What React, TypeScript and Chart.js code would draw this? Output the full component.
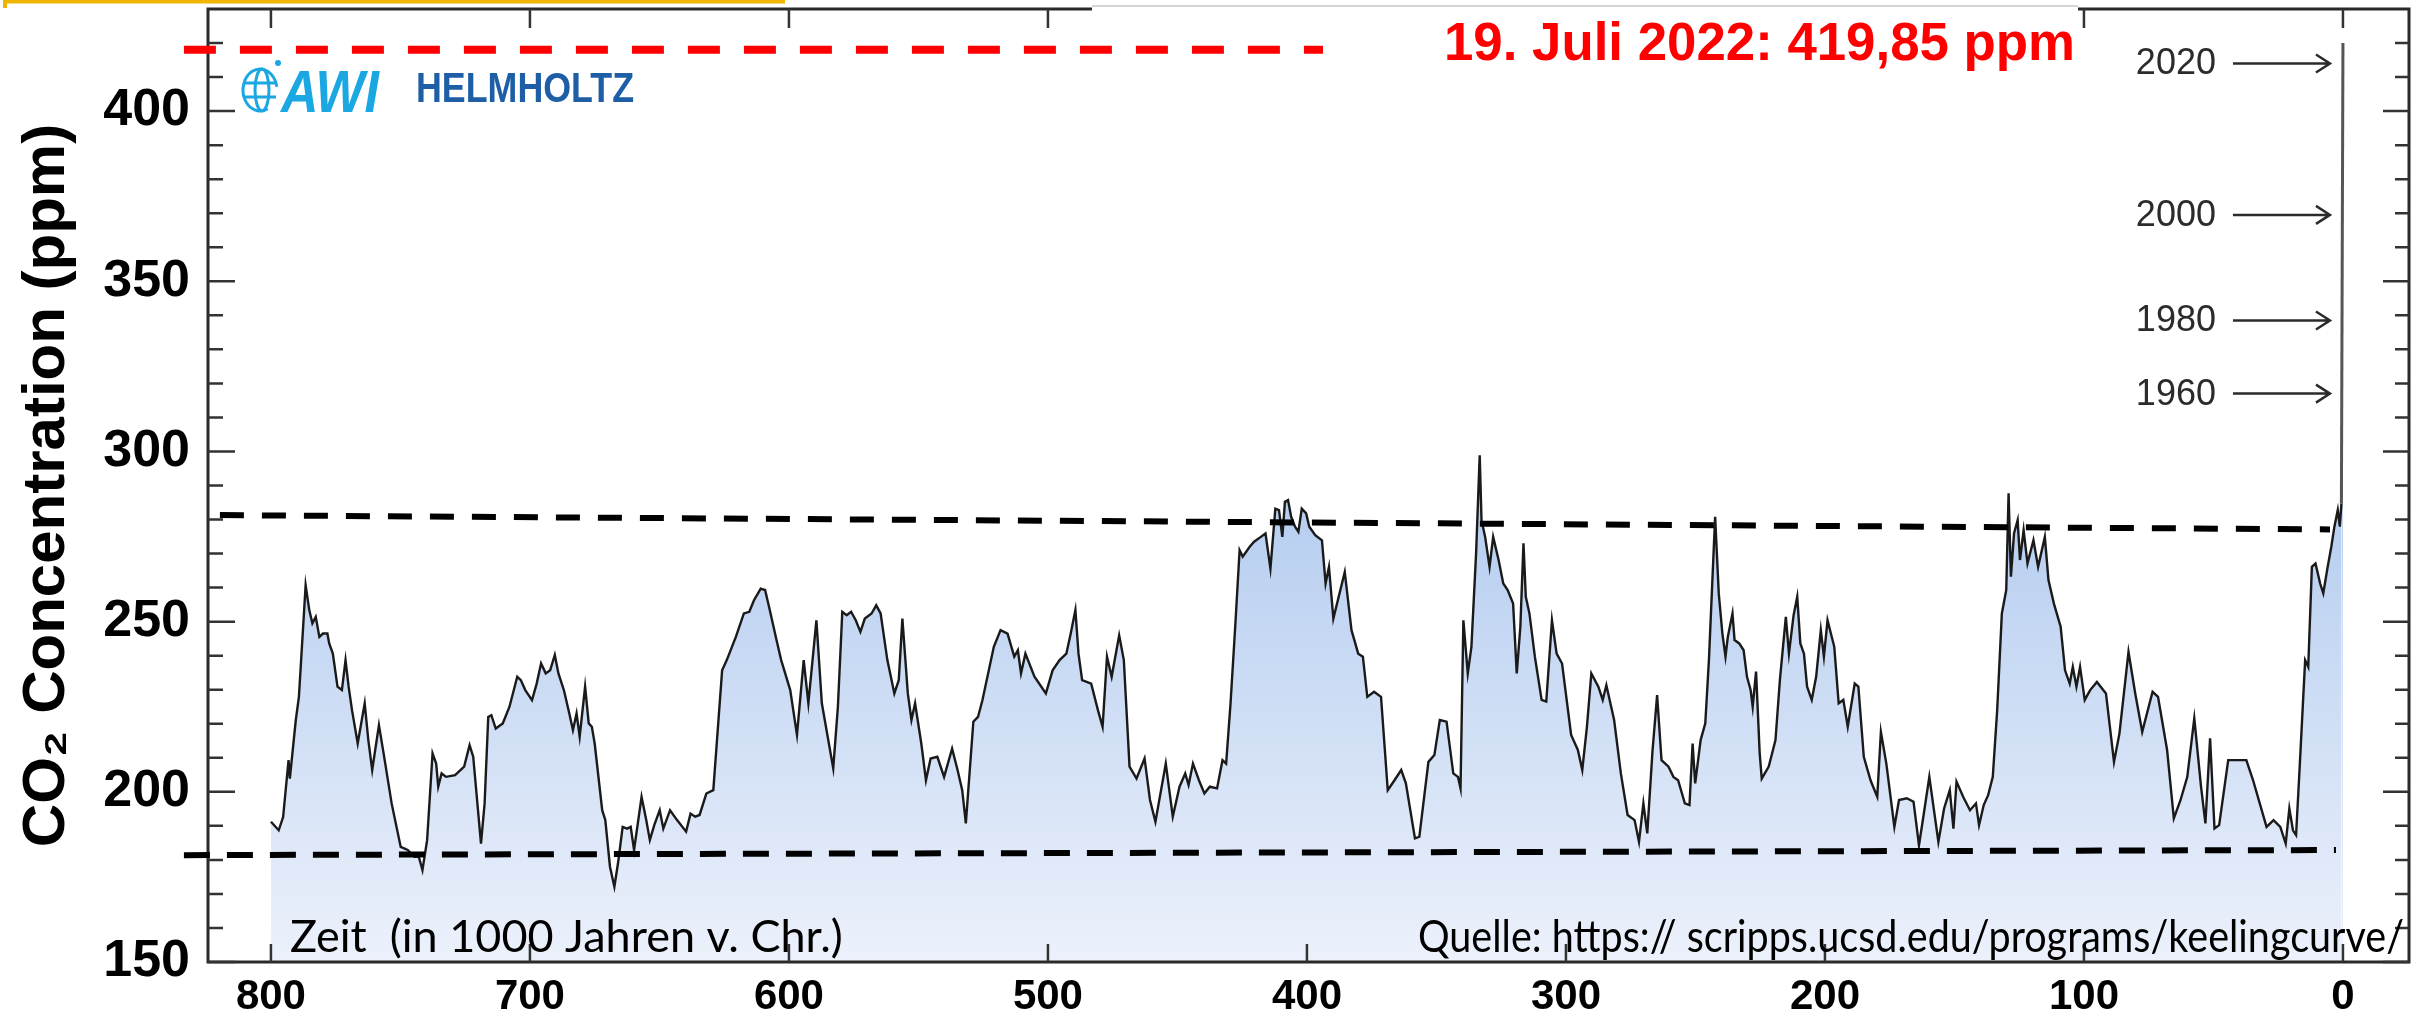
import React, { useEffect, useRef } from 'react';
import { Chart, registerables } from 'chart.js';

Chart.register(...registerables);

// ---- data (age in 1000 years before present, CO2 in ppm) ----
const ageKyr: number[] = [
  800, 797, 795.3, 793.2, 792.7, 790.4, 789.2, 786.6, 785.2, 784.0, 782.7, 781.3, 779.9, 778.2, 777.5, 776.1,
  774.3, 772.6, 771.2, 770.0, 768.7, 766.5, 763.8, 762.4, 760.9, 758.3, 756.5, 753.4, 749.9, 747.2, 744.6, 742.9,
  741.5, 739.7, 737.6, 736.2, 735.4, 734.1, 732.4, 728.9, 725.4, 723.3, 721.9, 718.9, 717.5, 716.1, 714.9, 713.2,
  710.5, 707.9, 704.9, 703.5, 701.8, 699.2, 697.4, 695.7, 693.9, 692.2, 690.4, 689.0, 686.9, 684.8, 683.4, 682.0,
  680.8, 678.7, 677.3, 676.1, 675.0, 672.1, 670.9, 669.1, 667.4, 666.0, 664.2, 662.5, 661.1, 659.8, 656.9, 655.1,
  653.7, 652.0, 649.9, 648.5, 645.9, 643.2, 639.7, 638.0, 636.2, 634.5, 631.9, 629.2, 625.8, 624.0, 620.5, 617.4,
  615.3, 613.5, 610.9, 609.2, 607.4, 604.8, 603.0, 599.5, 596.9, 594.3, 592.5, 589.4, 587.3, 582.9, 581.1, 579.4,
  577.7, 576.0, 574.2, 572.4, 570.7, 568.1, 566.3, 564.6, 562.0, 559.3, 557.6, 556.2, 554.1, 552.7, 551.3, 548.9,
  547.1, 545.3, 542.7, 540.1, 537.0, 534.9, 533.1, 531.7, 528.8, 527.0, 525.3, 520.9, 518.3, 515.6, 513.0, 511.6,
  510.4, 508.7, 505.2, 500.8, 498.2, 495.5, 492.9, 491.2, 489.4, 488.2, 486.8, 483.3, 480.7, 478.9, 477.2, 475.4,
  472.5, 470.7, 468.5, 465.8, 462.7, 460.6, 458.5, 454.5, 451.8, 449.2, 447.0, 445.7, 444.0, 441.7, 439.6, 437.5,
  434.7, 432.6, 431.2, 429.5, 427.7, 426.0, 424.8, 422.1, 420.4, 417.8, 416.0, 414.1, 412.2, 410.8, 409.5, 408.5,
  407.3, 406.1, 404.6, 403.3, 402.0, 400.3, 399.1, 396.8, 394.2, 392.8, 391.5, 389.8, 385.4, 382.8, 380.2, 378.4,
  376.7, 374.1, 371.4, 368.8, 366.2, 363.6, 361.8, 358.3, 356.6, 353.1, 350.8, 348.7, 346.1, 343.5, 341.7, 340.7,
  339.6, 337.9, 336.5, 334.7, 333.3, 332.6, 331.2, 329.5, 328.1, 326.0, 324.2, 322.5, 320.4, 319.0, 317.6, 316.4,
  315.5, 314.1, 312.0, 309.4, 307.6, 305.4, 303.6, 301.5, 298.0, 295.4, 293.7, 291.9, 290.2, 287.5, 285.8, 284.4,
  281.4, 278.8, 276.2, 273.5, 271.8, 270.1, 268.6, 266.6, 264.8, 263.1, 260.4, 258.5, 256.7, 254.1, 252.3, 251.1,
  250.1, 248.0, 246.2, 244.8, 242.4, 241.0, 239.6, 238.4, 237.5, 235.7, 234.9, 233.1, 231.4, 230.1, 228.7, 227.9,
  226.6, 225.2, 224.4, 221.7, 219.1, 217.4, 215.1, 213.9, 212.1, 210.7, 209.5, 208.1, 206.9, 205.1, 203.4, 201.6,
  200.4, 199.0, 196.4, 194.7, 192.9, 191.2, 188.5, 187.1, 185.0, 182.4, 179.8, 178.4, 176.3, 173.2, 171.4, 168.4,
  165.8, 163.7, 162.3, 159.7, 156.2, 154.0, 151.8, 150.4, 149.2, 146.6, 144.0, 141.7, 140.5, 138.7, 137.0, 135.2,
  133.5, 131.7, 130.0, 129.1, 128.2, 127.0, 125.6, 124.7, 123.3, 121.8, 119.5, 117.7, 115.1, 113.7, 111.6, 109.0,
  107.3, 105.5, 104.3, 102.9, 101.5, 99.7, 97.6, 95.0, 91.5, 88.4, 86.3, 82.8, 80.2, 77.5, 73.5, 71.4,
  67.9, 65.3, 62.7, 60.1, 57.4, 54.8, 53.1, 51.3, 49.6, 47.8, 44.3, 37.3, 34.7, 29.5, 26.8, 24.2,
  22.1, 20.7, 19.3, 18.1, 16.7, 14.6, 13.4, 12.0, 10.6, 8.8, 7.6, 5.9, 4.5, 3.3, 2.0, 1.2,
  0.6, 0.0,
];
const co2Ppm: number[] = [
  191.2, 188.7, 192.6, 209.3, 203.9, 221.1, 227.9, 260.7, 253.4, 249.5, 251.4, 245.5, 246.5, 246.5, 243.6, 240.6,
  230.9, 229.9, 238.7, 230.9, 224.0, 214.2, 226.0, 215.2, 206.4, 219.6, 211.3, 196.6, 183.8, 182.9, 180.9, 180.9,
  177.0, 185.8, 211.3, 208.3, 201.5, 205.4, 204.4, 204.9, 207.4, 213.7, 210.3, 184.8, 196.6, 222.0, 222.5, 218.6,
  220.1, 225.0, 233.8, 232.8, 229.9, 226.9, 231.8, 237.7, 234.8, 235.7, 240.2, 234.8, 229.9, 223.0, 218.1, 223.0,
  216.2, 230.9, 220.1, 219.1, 214.2, 194.6, 191.7, 178.0, 172.1, 179.0, 189.7, 189.2, 189.7, 182.9, 198.5, 191.7,
  185.8, 190.2, 194.6, 189.2, 194.6, 191.7, 188.3, 193.6, 192.7, 193.2, 199.5, 200.5, 235.7, 238.7, 245.5, 252.4,
  252.9, 256.3, 259.7, 259.3, 253.4, 244.6, 238.7, 229.9, 216.7, 238.7, 226.0, 250.4, 226.0, 206.9, 225.0, 252.9,
  251.9, 252.9, 250.4, 247.0, 250.9, 252.4, 254.8, 252.4, 238.7, 228.9, 232.8, 250.9, 228.9, 221.1, 226.0, 214.2,
  203.4, 209.8, 210.3, 204.4, 212.7, 206.4, 200.5, 190.7, 220.6, 222.0, 226.9, 242.6, 247.5, 246.5, 239.7, 241.6,
  234.8, 240.6, 233.8, 228.9, 235.7, 238.7, 240.6, 246.5, 253.4, 240.6, 232.8, 231.8, 224.0, 219.1, 239.7, 233.8,
  246.0, 238.7, 207.4, 203.9, 209.8, 197.6, 191.2, 208.3, 192.7, 201.5, 205.4, 202.0, 208.3, 203.4, 199.5, 201.5,
  201.0, 209.3, 208.3, 226.0, 248.5, 271.0, 269.1, 272.0, 273.5, 274.9, 275.9, 265.6, 283.2, 282.8, 274.9, 285.2,
  285.7, 280.8, 277.9, 276.4, 283.2, 281.8, 277.9, 275.4, 273.9, 261.2, 266.1, 250.9, 264.6, 247.5, 240.6, 239.7,
  227.9, 229.4, 227.9, 200.5, 203.4, 206.4, 202.5, 186.3, 186.8, 208.8, 210.8, 221.1, 220.6, 205.4, 204.4, 201.0,
  250.4, 234.8, 242.6, 270.0, 298.9, 279.8, 274.9, 266.1, 274.9, 268.1, 261.2, 259.3, 255.3, 234.8, 248.5, 273.0,
  257.3, 252.4, 239.7, 227.0, 226.5, 250.4, 240.6, 237.7, 216.7, 212.3, 206.4, 219.1, 234.8, 230.9, 227.0, 231.3,
  221.1, 205.4, 193.2, 191.7, 185.3, 196.6, 187.8, 211.8, 228.4, 209.3, 207.4, 204.4, 203.4, 196.6, 196.1, 214.2,
  202.5, 215.2, 220.1, 238.7, 280.8, 258.3, 246.5, 239.7, 245.5, 252.4, 244.6, 243.6, 241.6, 233.8, 229.9, 225.0,
  235.3, 211.3, 203.9, 207.4, 215.2, 232.8, 251.4, 240.6, 251.9, 257.3, 243.6, 240.6, 230.9, 227.0, 233.8, 247.5,
  239.7, 250.4, 242.6, 226.0, 227.0, 219.1, 231.8, 230.9, 210.3, 203.4, 198.5, 217.6, 208.3, 189.7, 197.6, 198.1,
  197.1, 184.3, 191.2, 204.4, 185.3, 195.1, 200.5, 189.2, 203.0, 198.5, 194.6, 196.6, 190.2, 196.1, 199.0, 204.4,
  224.0, 252.4, 259.3, 287.7, 263.2, 275.9, 279.8, 268.1, 276.9, 267.1, 273.9, 266.1, 274.9, 262.2, 255.3, 248.5,
  235.7, 231.8, 236.7, 230.9, 236.7, 227.0, 229.9, 232.3, 228.9, 208.8, 217.1, 241.1, 228.9, 217.6, 229.4, 227.9,
  212.3, 192.2, 197.6, 204.4, 221.6, 201.5, 190.7, 215.7, 189.2, 190.2, 209.3, 209.3, 203.4, 189.7, 191.7, 189.7,
  184.8, 195.1, 188.7, 187.3, 207.4, 238.7, 236.7, 266.1, 267.1, 261.2, 258.3, 266.1, 272.0, 277.9, 282.8, 277.9,
  284.7, 420.0,
];

// reference lines (dashed)
const upperBandAge = [819.7, 5.0];
const upperBandPpm = [281.3, 277.1];
const lowerBandAge = [833.6, 2.7];
const lowerBandPpm = [181.4, 182.9];
const todayLineAge = [833.6, 393.8];
const todayLinePpm = [418.0, 418.0];

// modern-year markers on the 0 line
const yearLabels = ['2020', '2000', '1980', '1960'];
const yearPpm = [414.0, 369.5, 338.5, 317.0];

// axes
const xTickValues = [800, 700, 600, 500, 400, 300, 200, 100, 0];
const yTickValues = [150, 200, 250, 300, 350, 400];
const yMinorTickValues = [160, 170, 180, 190, 210, 220, 230, 240, 260, 270, 280, 290, 310, 320, 330, 340, 360, 370, 380, 390, 410, 420];

const titleText = '19. Juli 2022: 419,85 ppm';
const yAxisTitle = 'CO\u2082 Concentration (ppm)';
const timeLabel = 'Zeit  (in 1000 Jahren v. Chr.)';
const sourceText = 'Quelle: https:// scripps.ucsd.edu/programs/keelingcurve/';

const NARROW = "'Liberation Sans Narrow', 'Liberation Sans', Arial, sans-serif";
const SANS = "'Liberation Sans', Arial, sans-serif";

const decorPlugin = {
  id: 'decor',
  afterDatasetDraw(chart: any, args: any) {
    if (args.index !== 0) return;
    const { ctx, chartArea: a, scales } = chart;
    const x = scales.x;
    const y = scales.y;
    ctx.save();
    ctx.strokeStyle = '#2a2a2a';
    ctx.lineWidth = 3;
    ctx.beginPath();
    ctx.moveTo(a.left, a.top);
    ctx.lineTo(a.left, a.bottom);
    ctx.lineTo(a.right, a.bottom);
    ctx.lineTo(a.right, a.top);
    ctx.closePath();
    ctx.stroke();
    ctx.lineWidth = 2.5;
    ctx.strokeStyle = '#333';
    ctx.beginPath();
    yTickValues.forEach((v) => {
      const py = y.getPixelForValue(v);
      ctx.moveTo(a.left, py); ctx.lineTo(a.left + 27, py);
      ctx.moveTo(a.right, py); ctx.lineTo(a.right - 26, py);
    });
    yMinorTickValues.forEach((v) => {
      const py = y.getPixelForValue(v);
      ctx.moveTo(a.left, py); ctx.lineTo(a.left + 15, py);
      ctx.moveTo(a.right, py); ctx.lineTo(a.right - 14, py);
    });
    xTickValues.forEach((v) => {
      const px = x.getPixelForValue(v);
      ctx.moveTo(px, a.bottom); ctx.lineTo(px, a.bottom - 18);
      ctx.moveTo(px, a.top); ctx.lineTo(px, a.top + 19);
    });
    ctx.stroke();
    ctx.restore();
  },
  afterDraw(chart: any) {
    const { ctx, scales } = chart;
    const x = scales.x;
    const y = scales.y;
    ctx.save();
    // yellow slide edge (top-left)
    ctx.fillStyle = '#efb500';
    ctx.fillRect(3, 0, 782, 3.5);
    ctx.fillRect(3, 0, 4, 8);

    // white text box covering the top frame
    const bx1 = x.getPixelForValue(483);
    const bx2 = x.getPixelForValue(102.3);
    ctx.fillStyle = '#ffffff';
    ctx.fillRect(bx1, 6.8, bx2 - bx1, 26);
    ctx.strokeStyle = '#c6c6c6';
    ctx.lineWidth = 1.5;
    ctx.beginPath();
    ctx.moveTo(bx1, 6);
    ctx.lineTo(bx2, 6);
    ctx.stroke();

    // red headline
    ctx.fillStyle = '#ff0000';
    ctx.font = `bold 53px ${SANS}`;
    ctx.textAlign = 'left';
    ctx.textBaseline = 'alphabetic';
    ctx.fillText(titleText, 1444, 60, 631);

    // AWI logo
    const cyan = '#1ba8e2';
    ctx.strokeStyle = cyan;
    ctx.fillStyle = cyan;
    ctx.lineWidth = 3;
    ctx.beginPath();
    ctx.ellipse(260, 90, 17, 21, 0, 0.35 * Math.PI, 1.95 * Math.PI);
    ctx.stroke();
    ctx.beginPath();
    ctx.ellipse(262, 90, 7, 21, 0, 0, 2 * Math.PI);
    ctx.stroke();
    ctx.beginPath();
    ctx.moveTo(244, 83); ctx.lineTo(276, 83);
    ctx.moveTo(244, 97); ctx.lineTo(276, 97);
    ctx.stroke();
    ctx.beginPath();
    ctx.arc(278, 63, 3, 0, 2 * Math.PI);
    ctx.fill();
    ctx.font = `italic bold 60px ${SANS}`;
    ctx.fillText('AWI', 281, 112, 98);
    ctx.fillStyle = '#1d5ea6';
    ctx.font = `bold 42px ${NARROW}`;
    ctx.fillText('HELMHOLTZ', 416, 102, 218);

    // year markers
    const x0 = x.getPixelForValue(0);
    ctx.strokeStyle = '#2b2b2b';
    ctx.fillStyle = '#2b2b2b';
    ctx.lineWidth = 2.5;
    ctx.font = `36px ${SANS}`;
    ctx.textAlign = 'right';
    ctx.textBaseline = 'middle';
    yearLabels.forEach((lab, i) => {
      const py = y.getPixelForValue(yearPpm[i]);
      ctx.fillText(lab, x0 - 127, py + 1);
      const tip = x0 - 13;
      ctx.beginPath();
      ctx.moveTo(x0 - 110, py);
      ctx.lineTo(tip, py);
      ctx.moveTo(tip - 14, py - 9);
      ctx.lineTo(tip, py);
      ctx.lineTo(tip - 14, py + 9);
      ctx.stroke();
    });

    // bottom notes
    ctx.fillStyle = '#000000';
    ctx.textAlign = 'left';
    ctx.textBaseline = 'alphabetic';
    ctx.font = `45px Lato, 'Open Sans', sans-serif`;
    ctx.fillText(timeLabel, 290, 952, 591);
    ctx.fillText(sourceText, 1418, 952, 986);
    ctx.restore();
  },
};

export default function App() {
  const ref = useRef<HTMLCanvasElement | null>(null);

  useEffect(() => {
    document.body.style.margin = '0';
    const canvas = ref.current;
    if (!canvas) return;

    const mainData = ageKyr.map((a, i) => ({ x: a, y: co2Ppm[i] }));
    const toPts = (xs: number[], ys: number[]) => xs.map((v, i) => ({ x: v, y: ys[i] }));
    const lastIdx = ageKyr.length - 1;

    const chart = new Chart(canvas, {
      type: 'line',
      data: {
        datasets: [
          {
            data: mainData,
            borderColor: '#1a1a1a',
            borderWidth: 2.4,
            pointRadius: 0,
            tension: 0,
            fill: 'start',
            order: 10,
            segment: {
              borderColor: (c: any) => (c.p1DataIndex === lastIdx ? '#555555' : undefined),
              borderWidth: (c: any) => (c.p1DataIndex === lastIdx ? 3 : undefined),
            },
            backgroundColor: (c: any) => {
              const ch = c.chart;
              const area = ch.chartArea;
              if (!area) return 'rgba(200,216,242,1)';
              const y = ch.scales.y;
              const g = ch.ctx.createLinearGradient(0, y.getPixelForValue(295), 0, y.getPixelForValue(150));
              g.addColorStop(0, 'rgb(178,203,239)');
              g.addColorStop(1, 'rgb(236,241,251)');
              return g;
            },
          } as any,
          {
            data: toPts(upperBandAge, upperBandPpm),
            borderColor: '#000000',
            borderWidth: 6,
            borderDash: [24, 18],
            pointRadius: 0,
            fill: false,
            clip: false,
            order: 1,
          } as any,
          {
            data: toPts(lowerBandAge, lowerBandPpm),
            borderColor: '#000000',
            borderWidth: 6,
            borderDash: [26, 17],
            pointRadius: 0,
            fill: false,
            clip: false,
            order: 1,
          } as any,
          {
            data: toPts(todayLineAge, todayLinePpm),
            borderColor: '#ff0000',
            borderWidth: 8,
            borderDash: [32, 24],
            pointRadius: 0,
            fill: false,
            clip: false,
            order: 1,
          } as any,
        ],
      },
      options: {
        responsive: false,
        animation: false,
        devicePixelRatio: 1,
        events: [],
        layout: { padding: { top: 9, right: 26, left: 0, bottom: 0 }, autoPadding: false } as any,
        plugins: { legend: { display: false }, tooltip: { enabled: false } },
        scales: {
          x: {
            type: 'linear',
            min: -25.5,
            max: 824.3,
            reverse: true,
            grid: { display: false, drawTicks: false },
            border: { display: false },
            afterBuildTicks: (axis: any) => {
              axis.ticks = xTickValues.map((v) => ({ value: v }));
            },
            afterFit: (scale: any) => {
              scale.height = 59;
              scale.paddingLeft = 0;
              scale.paddingRight = 0;
            },
            ticks: {
              autoSkip: false,
              maxRotation: 0,
              padding: 10,
              color: '#000000',
              font: { family: NARROW, size: 42, weight: 'bold' },
              callback: (v: any) => String(v),
            },
          },
          y: {
            type: 'linear',
            min: 150,
            max: 430,
            grid: { display: false, drawTicks: false },
            border: { display: false },
            afterBuildTicks: (axis: any) => {
              axis.ticks = yTickValues.map((v) => ({ value: v }));
            },
            afterFit: (scale: any) => {
              scale.width = 208;
              scale.paddingTop = 0;
              scale.paddingBottom = 0;
            },
            ticks: {
              autoSkip: false,
              padding: 18,
              color: '#000000',
              font: { family: NARROW, size: 52, weight: 'bold' },
              callback: (v: any) => String(v),
            },
            title: {
              display: true,
              text: yAxisTitle,
              color: '#000000',
              font: { family: SANS, size: 60, weight: 'bold', lineHeight: 1 },
              padding: { top: 17, bottom: 0 },
            },
          },
        },
      } as any,
      plugins: [decorPlugin as any],
    });

    return () => chart.destroy();
  }, []);

  return (
    <canvas
      ref={ref}
      width={2435}
      height={1021}
      style={{ display: 'block', width: '2435px', height: '1021px' }}
    />
  );
}
